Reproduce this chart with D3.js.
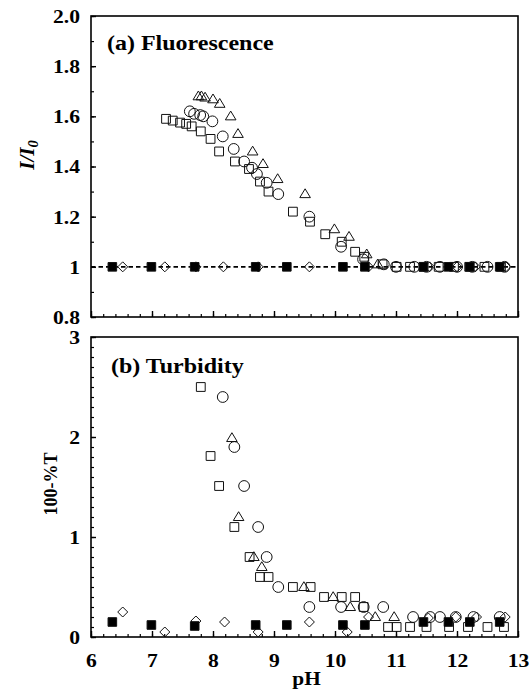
<!DOCTYPE html>
<html>
<head>
<meta charset="utf-8">
<script src="https://cdn.jsdelivr.net/npm/d3@7"></script>
<style>
  body { margin: 0; background: #fff; }
  svg { display: block; }
  text { font-family: "Liberation Serif", "Times New Roman", serif; font-weight: bold; fill: #000; }
</style>
</head>
<body>
<script>
// pH / value pairs
const topSquares = [[7.23,1.59],[7.34,1.583],[7.46,1.575],[7.56,1.57],[7.65,1.56],[7.80,1.54],[7.96,1.51],[8.10,1.46],[8.36,1.42],[8.59,1.39],[8.77,1.34],[8.91,1.30],[9.31,1.22],[9.59,1.18],[9.84,1.13],[10.11,1.10],[10.33,1.06],[10.48,1.04],[10.78,1.01],[11.01,1.0],[11.23,1.0],[11.45,1.0],[11.7,1.0],[11.95,1.0],[12.2,1.0],[12.45,1.0],[12.72,1.0]];
const topCircles = [[7.62,1.62],[7.69,1.61],[7.79,1.605],[7.84,1.60],[7.99,1.58],[8.16,1.52],[8.34,1.47],[8.51,1.42],[8.64,1.395],[8.72,1.37],[8.88,1.335],[9.07,1.29],[9.58,1.20],[10.10,1.08],[10.46,1.03],[10.8,1.01],[11.0,1.0],[11.3,1.0],[11.5,1.0],[11.72,1.0],[12.0,1.0],[12.25,1.0],[12.5,1.0],[12.78,1.0]];
const topTriangles = [[7.76,1.68],[7.81,1.68],[7.87,1.675],[8.00,1.668],[8.11,1.65],[8.29,1.60],[8.41,1.53],[8.65,1.46],[8.82,1.41],[9.06,1.35],[9.51,1.29],[9.99,1.15],[10.23,1.12],[10.52,1.05],[10.7,1.01]];
const topDiamonds = [[6.52,1],[7.21,1],[7.72,1],[8.17,1],[8.74,1],[9.58,1],[10.55,1],[11.55,1],[12.0,1],[12.3,1],[12.8,1]];
const topFilled = [[6.35,1],[6.99,1],[7.70,1],[8.70,1],[9.21,1],[10.13,1],[10.49,1],[11.45,1],[11.86,1],[12.21,1],[12.70,1]];

const botSquares = [[7.80,2.50],[7.96,1.81],[8.10,1.51],[8.35,1.10],[8.60,0.80],[8.77,0.60],[8.91,0.60],[9.31,0.50],[9.60,0.50],[9.82,0.40],[10.11,0.40],[10.33,0.40],[10.47,0.30],[10.87,0.10],[11.01,0.10],[11.23,0.10],[11.50,0.10],[11.87,0.10],[12.18,0.10],[12.50,0.10],[12.77,0.10]];
const botCircles = [[8.16,2.40],[8.35,1.90],[8.51,1.51],[8.74,1.10],[8.88,0.80],[9.07,0.50],[9.58,0.30],[10.10,0.30],[10.47,0.30],[10.79,0.30],[11.28,0.20],[11.56,0.20],[11.72,0.20],[11.98,0.20],[12.27,0.20],[12.70,0.20]];
const botTriangles = [[8.31,1.99],[8.42,1.20],[8.67,0.80],[8.80,0.70],[9.49,0.50],[9.97,0.40],[10.25,0.30],[10.66,0.20],[10.97,0.20]];
const botDiamonds = [[6.52,0.25],[7.21,0.05],[7.72,0.16],[8.19,0.15],[8.74,0.05],[9.58,0.15],[10.20,0.05],[10.55,0.20],[11.53,0.19],[11.98,0.20],[12.32,0.20],[12.79,0.20]];
const botFilled = [[6.35,0.15],[6.99,0.12],[7.70,0.11],[8.70,0.12],[9.21,0.12],[10.13,0.12],[10.49,0.12],[11.45,0.15],[11.86,0.15],[12.21,0.15],[12.70,0.15]];

const xTicks = [6, 7, 8, 9, 10, 11, 12, 13];
const yTopTicks = [0.8, 1.0, 1.2, 1.4, 1.6, 1.8, 2.0];
const yTopLabels = ["0.8", "1", "1.2", "1.4", "1.6", "1.8", "2.0"];
const yBotTicks = [0, 1, 2, 3];
const yBotLabels = ["0", "1", "2", "3"];

const width = 532, height = 690;
const left = 91, right = 518;
const panelA = {top: 16, bottom: 317};
const panelB = {top: 337, bottom: 637};
const sx = 1.2; // the scanned lettering is wider than Times

const x = d3.scaleLinear().domain([6, 13]).range([left, right]);
const yA = d3.scaleLinear().domain([0.8, 2.0]).range([panelA.bottom, panelA.top]);
const yB = d3.scaleLinear().domain([0, 3]).range([panelB.bottom, panelB.top]);

const svg = d3.select('body').append('svg')
  .attr('width', width)
  .attr('height', height);

// marker shapes
function shapePath(kind) {
  if (kind === 'square') { const s = 4.4; return `M${-s},${-s}H${s}V${s}H${-s}Z`; }
  if (kind === 'filled') { const s = 4.3; return `M${-s},${-s}H${s}V${s}H${-s}Z`; }
  if (kind === 'triangle') { const w = 5.3, h = 8.8; return `M0,${-h*0.6}L${w},${h*0.4}L${-w},${h*0.4}Z`; }
  if (kind === 'diamond') { const r = 5; return `M0,${-r}L${r},0L0,${r}L${-r},0Z`; }
  return '';
}

function drawPanel(yScale, p, ticks, labels, minorStep, showXLabels) {
  const g = svg.append('g');

  // minor y ticks
  const yMinor = d3.range(yScale.domain()[0], yScale.domain()[1] + 1e-9, minorStep);
  g.append('g')
    .attr('transform', `translate(${left},0)`)
    .call(d3.axisLeft(yScale).tickValues(yMinor).tickSize(-3).tickFormat(''))
    .call(a => a.select('.domain').remove())
    .selectAll('line').attr('stroke', '#000').attr('stroke-width', 1.2);

  // major y ticks with labels
  g.append('g')
    .attr('transform', `translate(${left},0)`)
    .call(d3.axisLeft(yScale).tickValues(ticks).tickSize(-5).tickPadding(11)
      .tickFormat((d, i) => labels[i]))
    .call(a => a.select('.domain').remove())
    .call(a => a.selectAll('line').attr('stroke', '#000').attr('stroke-width', 1.4))
    .call(a => a.selectAll('text').attr('font-size', 18).attr('font-family', null)
      .attr('dy', '0.36em').attr('x', -11 / sx).attr('transform', `scale(${sx},1)`));

  // minor x ticks
  const xMinor = d3.range(6, 13.001, 0.2);
  g.append('g')
    .attr('transform', `translate(0,${p.bottom})`)
    .call(d3.axisBottom(x).tickValues(xMinor).tickSize(-3).tickFormat(''))
    .call(a => a.select('.domain').remove())
    .selectAll('line').attr('stroke', '#000').attr('stroke-width', 1.2);

  g.append('g')
    .attr('transform', `translate(0,${p.bottom})`)
    .call(d3.axisBottom(x).tickValues(xTicks).tickSize(-6).tickPadding(17)
      .tickFormat(showXLabels ? d3.format('d') : ''))
    .call(a => a.select('.domain').remove())
    .call(a => a.selectAll('line').attr('stroke', '#000').attr('stroke-width', 1.4))
    .call(a => a.selectAll('text').attr('font-size', 18).attr('font-family', null)
      .attr('transform', `scale(${sx},1)`));

  // frame
  g.append('rect')
    .attr('x', left).attr('y', p.top)
    .attr('width', right - left).attr('height', p.bottom - p.top)
    .attr('fill', 'none').attr('stroke', '#000').attr('stroke-width', 1.6);
  return g;
}

const gA = drawPanel(yA, panelA, yTopTicks, yTopLabels, 0.1, false);
const gB = drawPanel(yB, panelB, yBotTicks, yBotLabels, 0.1, true);

// dashed reference line at I/I0 = 1
gA.append('line')
  .attr('x1', x(6)).attr('x2', x(13))
  .attr('y1', yA(1)).attr('y2', yA(1))
  .attr('stroke', '#000').attr('stroke-width', 1.7)
  .attr('stroke-dasharray', '4.5,3');

function plotMarks(g, data, yScale, kind) {
  if (kind === 'circle') {
    g.selectAll(null).data(data).enter().append('circle')
      .attr('cx', d => x(d[0])).attr('cy', d => yScale(d[1]))
      .attr('r', 5.4)
      .attr('fill', 'none').attr('stroke', '#111').attr('stroke-width', 1);
  } else {
    g.selectAll(null).data(data).enter().append('path')
      .attr('d', shapePath(kind))
      .attr('transform', d => `translate(${x(d[0])},${yScale(d[1])})`)
      .attr('fill', kind === 'filled' ? '#000' : 'none')
      .attr('stroke', '#111').attr('stroke-width', 1);
  }
}

plotMarks(gA, topSquares, yA, 'square');
plotMarks(gA, topCircles, yA, 'circle');
plotMarks(gA, topTriangles, yA, 'triangle');
plotMarks(gA, topDiamonds, yA, 'diamond');
plotMarks(gA, topFilled, yA, 'filled');

plotMarks(gB, botSquares, yB, 'square');
plotMarks(gB, botCircles, yB, 'circle');
plotMarks(gB, botTriangles, yB, 'triangle');
plotMarks(gB, botDiamonds, yB, 'diamond');
plotMarks(gB, botFilled, yB, 'filled');

// panel titles
svg.append('text').attr('transform', `scale(${sx},1)`)
  .attr('x', 107 / sx).attr('y', 50).attr('font-size', 20).text('(a) Fluorescence');
svg.append('text').attr('transform', `scale(${sx},1)`)
  .attr('x', 111 / sx).attr('y', 373).attr('font-size', 20).text('(b) Turbidity');

// axis titles
const yLabA = svg.append('text')
  .attr('transform', 'translate(34,155) rotate(-90) scale(1.05,1)')
  .attr('text-anchor', 'middle')
  .attr('font-size', 20)
  .attr('font-style', 'italic');
yLabA.append('tspan').text('I/I');
yLabA.append('tspan').attr('dy', 4).attr('font-size', 14).text('0');

svg.append('text')
  .attr('transform', 'translate(57,484) rotate(-90)')
  .attr('text-anchor', 'middle')
  .attr('font-size', 18)
  .text('100-%T');

svg.append('text')
  .attr('transform', `scale(1.12,1)`)
  .attr('x', ((left + right) / 2 + 2) / 1.12).attr('y', 685)
  .attr('text-anchor', 'middle')
  .attr('font-size', 19)
  .text('pH');
</script>
</body>
</html>
